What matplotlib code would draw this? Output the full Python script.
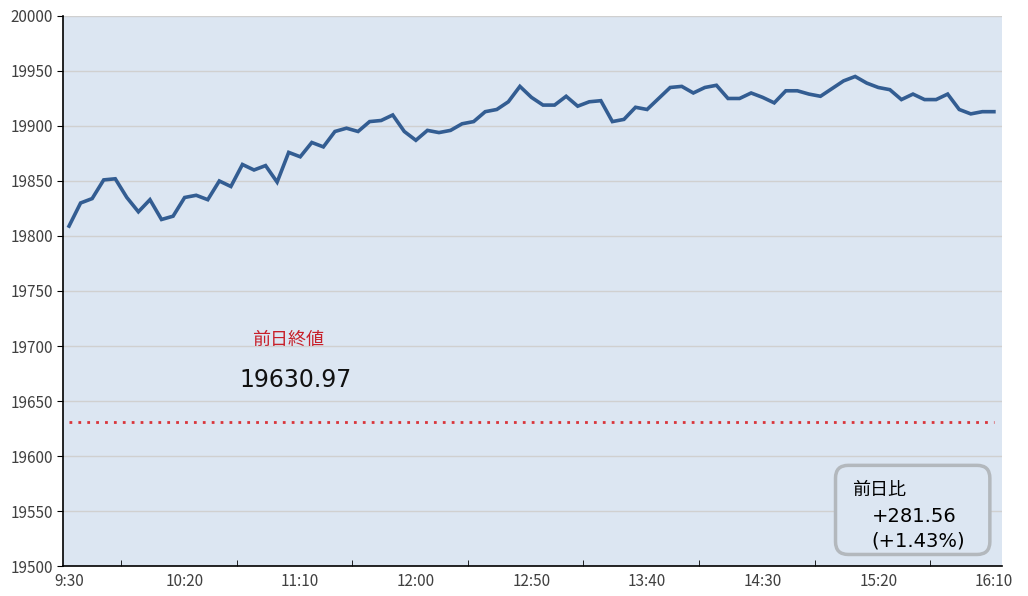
import matplotlib.pyplot as plt
from matplotlib.patches import FancyBboxPatch
from matplotlib.ticker import FixedLocator

plt.rcParams['font.family'] = ['Noto Sans CJK JP', 'DejaVu Sans']
NUM_FONT = ['DejaVu Sans', 'Noto Sans CJK JP']

# 5-minute prices from 9:30 to 16:10
prices = [
    19809, 19830, 19834, 19851, 19852, 19835, 19822, 19833, 19815, 19818,
    19835, 19837, 19833, 19850, 19845, 19865, 19860, 19864, 19849, 19876,
    19872, 19885, 19881, 19895, 19898, 19895, 19904, 19905, 19910, 19895,
    19887, 19896, 19894, 19896, 19902, 19904, 19913, 19915, 19922, 19936,
    19926, 19919, 19919, 19927, 19918, 19922, 19923, 19904, 19906, 19917,
    19915, 19925, 19935, 19936, 19930, 19935, 19937, 19925, 19925, 19930,
    19926, 19921, 19932, 19932, 19929, 19927, 19934, 19941, 19945, 19939,
    19935, 19933, 19924, 19929, 19924, 19924, 19929, 19915, 19911, 19913,
    19913,
]
tick_labels = ['9:30', '10:20', '11:10', '12:00', '12:50', '13:40', '14:30', '15:20', '16:10']
prev_close = 19630.97
change = '+281.56'
change_pct = '(+1.43%)'

fig = plt.figure(figsize=(10.28, 5.96), dpi=100)
ax = fig.add_axes([0.0613, 0.0503, 0.9134, 0.9229])
ax.set_facecolor('#dce6f2')

x = list(range(len(prices)))
ax.plot(x, prices, color='#335d92', linewidth=2.6, solid_joinstyle='miter', zorder=3)
ax.hlines(prev_close, 0, len(prices) - 1, colors='#d9343a', linestyles=(0, (1, 2.2)),
          linewidth=2, zorder=2)

ax.set_xlim(-0.52, 80.7)
ax.set_ylim(19500, 20000)
ax.set_yticks(range(19500, 20001, 50))
ax.set_xticks(range(0, len(prices), 10))
ax.set_xticklabels(tick_labels)
ax.xaxis.set_minor_locator(FixedLocator([4.5 + 10 * k for k in range(8)]))
ax.tick_params(axis='x', which='major', length=0, labelsize=11, colors='#404040', pad=5)
ax.tick_params(axis='x', which='minor', length=4, direction='in', color='black')
ax.tick_params(axis='y', length=4, direction='out', labelsize=11, colors='#404040', pad=3)
ax.tick_params(axis='y', color='black')
ax.grid(axis='y', color='#d0d0d0', linewidth=1)
ax.set_axisbelow(True)
for s in ['top', 'right']:
    ax.spines[s].set_visible(False)
for s in ['left', 'bottom']:
    ax.spines[s].set_color('black')
    ax.spines[s].set_linewidth(1.2)

ax.text(18.94, 19705.5, '前日終値', color='#c8202a', fontsize=13, ha='center', va='center')
ax.text(19.63, 19669, f'{prev_close:.2f}', color='#111111', fontsize=17, ha='center',
        va='center', family=NUM_FONT)

box = FancyBboxPatch((66.3, 19510.5), 13.35, 81, boxstyle='round,pad=0,rounding_size=1.1',
                     mutation_aspect=10.5, facecolor='#dce6f2', edgecolor='#b3b8bd',
                     linewidth=2.5, zorder=4)
ax.add_patch(box)
ax.text(67.7, 19569, '前日比', fontsize=13, ha='left', va='center', zorder=5)
ax.text(69.45, 19545, change, fontsize=14, ha='left', va='center', zorder=5, family=NUM_FONT)
ax.text(69.4, 19523, change_pct, fontsize=14, ha='left', va='center', zorder=5, family=NUM_FONT)

fig.savefig('out.png', dpi=100)
